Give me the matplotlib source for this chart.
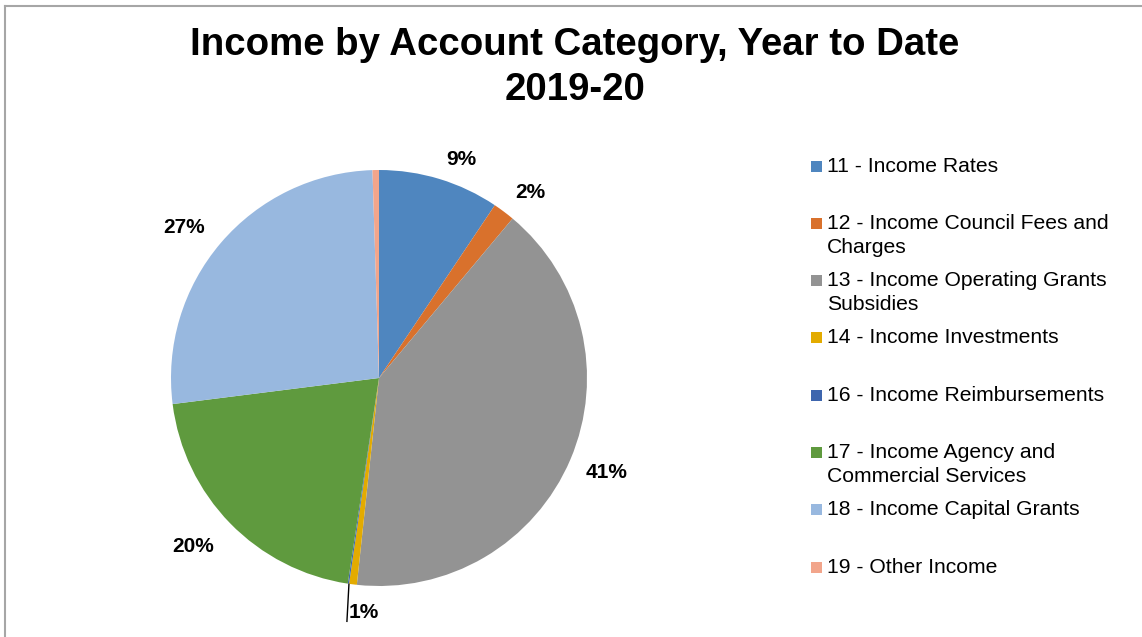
import numpy as np
import matplotlib
matplotlib.use("Agg")
import matplotlib.pyplot as plt
from matplotlib.patches import Rectangle

plt.rcParams['font.family'] = ['Liberation Sans', 'DejaVu Sans']

# Income shares by account category (percent of year-to-date total)
categories = [
    "11 - Income Rates",
    "12 - Income Council Fees and\nCharges",
    "13 - Income Operating Grants\nSubsidies",
    "14 - Income Investments",
    "16 - Income Reimbursements",
    "17 - Income Agency and\nCommercial Services",
    "18 - Income Capital Grants",
    "19 - Other Income",
]
shares = [9.4, 1.7, 40.6, 0.6, 0.1, 20.6, 26.5, 0.5]
shown_labels = ["9%", "2%", "41%", "1%", "", "20%", "27%", ""]
colors = ["#4F86BF", "#D9712C", "#939393", "#E3AB00",
          "#3E66AE", "#5F9A3E", "#98B8DF", "#F2A58B"]

# small pixel nudges for the outside labels (x right, y down)
label_nudge = [(10, 18), (3, 12), (0, -2), (0, 0), (0, 0), (-9, -4), (-7, 10), (0, 0)]

W, H = 1142, 637
fig = plt.figure(figsize=(W / 100, H / 100), dpi=100)
ax = fig.add_axes([0, 0, 1, 1])

# chart area border (top and left edges visible)
ax.plot([5, W], [H - 6, H - 6], color="#A6A6A6", lw=1.5)
ax.plot([5, 5], [0, H - 6], color="#A6A6A6", lw=1.5)

cx, cy, R = 379, H - 378, 208
wedges, _ = ax.pie(shares, colors=colors, startangle=90, counterclock=False,
                   center=(cx, cy), radius=R, frame=True,
                   wedgeprops=dict(linewidth=0))
ax.set_xlim(0, W)
ax.set_ylim(0, H)
ax.set_aspect("equal")
ax.axis("off")

# percentage labels outside the pie
cum = np.cumsum([0] + shares)
for i, lab in enumerate(shown_labels):
    if not lab:
        continue
    mid = (cum[i] + cum[i + 1]) / 2 / 100 * 2 * np.pi
    if shares[i] < 1:
        # small slice: leader line down to the label
        ex = cx + R * np.sin(mid)
        ey = cy + R * np.cos(mid)
        ax.plot([ex - 4, ex - 6], [ey, ey - 37], color="black", lw=1)
        ax.text(ex + 11, ey - 28, lab, fontsize=15, fontweight="bold",
                ha="center", va="center")
        continue
    r = R * 1.19
    ndx, ndy = label_nudge[i]
    ax.text(cx + r * np.sin(mid) + ndx, cy + r * np.cos(mid) - ndy, lab,
            fontsize=15, fontweight="bold", ha="center", va="center")

ax.text(575, H - 45, "Income by Account Category, Year to Date", fontsize=27.6,
        fontweight="bold", ha="center", va="center")
ax.text(575, H - 90, "2019-20", fontsize=27.6, fontweight="bold",
        ha="center", va="center")

# legend
ly = H - 166
for name, col in zip(categories, colors):
    ax.add_patch(Rectangle((811, ly - 5.5), 11, 11, color=col, lw=0))
    lines = name.split("\n")
    for k, line in enumerate(lines):
        ax.text(827, ly - 24 * k, line, fontsize=15.2, ha="left", va="center")
    ly -= 57.3

fig.savefig("out.png", dpi=100)
